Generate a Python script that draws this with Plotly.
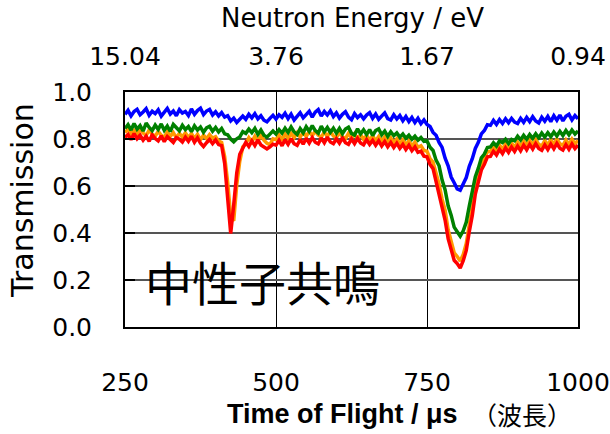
import plotly.graph_objects as go

tof = list(range(250, 1001, 5))

blue = [
    0.905, 0.922, 0.898, 0.917, 0.926, 0.903, 0.915, 0.929, 0.901, 0.918,
    0.908, 0.924, 0.897, 0.915, 0.930, 0.906, 0.919, 0.899, 0.925, 0.910,
    0.917, 0.900, 0.928, 0.905, 0.921, 0.931, 0.904, 0.919, 0.926, 0.902,
    0.916, 0.898, 0.912, 0.893, 0.899, 0.877, 0.889, 0.870, 0.886, 0.898,
    0.884, 0.905, 0.890, 0.908, 0.886, 0.899, 0.880, 0.873, 0.888, 0.901,
    0.885, 0.903, 0.892, 0.910, 0.887, 0.906, 0.881, 0.899, 0.912, 0.890,
    0.907, 0.918, 0.893, 0.914, 0.925, 0.898, 0.917, 0.902, 0.920, 0.895,
    0.911, 0.889, 0.905, 0.916, 0.893, 0.882, 0.908, 0.891, 0.903, 0.886,
    0.902, 0.912, 0.888, 0.906, 0.884, 0.899, 0.911, 0.887, 0.881, 0.903,
    0.885, 0.900, 0.878, 0.896, 0.874, 0.892, 0.870, 0.888, 0.865, 0.881,
    0.862, 0.853, 0.828, 0.816, 0.785, 0.764, 0.718, 0.686, 0.638, 0.614,
    0.588, 0.582, 0.606, 0.636, 0.684, 0.716, 0.760, 0.786, 0.822, 0.836,
    0.861, 0.858, 0.879, 0.862, 0.883, 0.866, 0.886, 0.869, 0.888, 0.872,
    0.866, 0.888, 0.871, 0.892, 0.874, 0.895, 0.877, 0.868, 0.893, 0.876,
    0.896, 0.874, 0.899, 0.880, 0.902, 0.877, 0.897, 0.905, 0.881, 0.900,
    0.886,
]

green = [
    0.845, 0.861, 0.838, 0.866, 0.842, 0.857, 0.834, 0.868, 0.849, 0.836,
    0.859, 0.841, 0.864, 0.837, 0.855, 0.832, 0.862, 0.846, 0.835, 0.858,
    0.840, 0.853, 0.831, 0.856, 0.838, 0.851, 0.829, 0.847, 0.854, 0.833,
    0.849, 0.830, 0.845, 0.822, 0.818, 0.800, 0.788, 0.801, 0.809, 0.831,
    0.824, 0.842, 0.827, 0.845, 0.820, 0.838, 0.816, 0.808, 0.822, 0.834,
    0.821, 0.840, 0.825, 0.846, 0.828, 0.851, 0.830, 0.819, 0.844, 0.826,
    0.852, 0.833, 0.857, 0.836, 0.825, 0.855, 0.831, 0.849, 0.828, 0.846,
    0.825, 0.845, 0.823, 0.842, 0.850, 0.824, 0.817, 0.843, 0.822, 0.839,
    0.819, 0.840, 0.815, 0.836, 0.843, 0.818, 0.834, 0.811, 0.831, 0.814,
    0.826, 0.808, 0.821, 0.803, 0.816, 0.799, 0.812, 0.795, 0.806, 0.790,
    0.792, 0.765, 0.751, 0.710, 0.686, 0.625, 0.583, 0.516, 0.476, 0.425,
    0.405, 0.386, 0.409, 0.446, 0.515, 0.573, 0.640, 0.676, 0.720, 0.736,
    0.764, 0.766, 0.784, 0.770, 0.792, 0.785, 0.799, 0.781, 0.798, 0.792,
    0.812, 0.796, 0.816, 0.799, 0.819, 0.803, 0.822, 0.805, 0.825, 0.808,
    0.827, 0.810, 0.830, 0.813, 0.833, 0.815, 0.836, 0.818, 0.838, 0.821,
    0.834,
]

orange = [
    0.828, 0.841, 0.822, 0.836, 0.819, 0.843, 0.825, 0.815, 0.838, 0.820,
    0.812, 0.833, 0.816, 0.807, 0.830, 0.811, 0.827, 0.805, 0.824, 0.809,
    0.826, 0.806, 0.823, 0.802, 0.820, 0.797, 0.816, 0.801, 0.819, 0.804,
    0.810, 0.791, 0.785, 0.725, 0.615, 0.472, 0.452, 0.605, 0.705, 0.766,
    0.779, 0.806, 0.788, 0.812, 0.792, 0.815, 0.795, 0.782, 0.776, 0.801,
    0.797, 0.817, 0.799, 0.821, 0.802, 0.824, 0.806, 0.827, 0.808, 0.829,
    0.811, 0.832, 0.814, 0.834, 0.816, 0.808, 0.830, 0.811, 0.833, 0.813,
    0.806, 0.827, 0.809, 0.802, 0.824, 0.804, 0.822, 0.800, 0.819, 0.798,
    0.816, 0.795, 0.814, 0.792, 0.811, 0.790, 0.809, 0.787, 0.805, 0.784,
    0.801, 0.780, 0.797, 0.775, 0.792, 0.770, 0.787, 0.765, 0.771, 0.751,
    0.748, 0.716, 0.702, 0.654, 0.608, 0.544, 0.496, 0.414, 0.368, 0.316,
    0.300, 0.281, 0.309, 0.355, 0.435, 0.505, 0.595, 0.640, 0.695, 0.715,
    0.746, 0.747, 0.767, 0.751, 0.774, 0.756, 0.779, 0.760, 0.783, 0.764,
    0.787, 0.768, 0.791, 0.772, 0.794, 0.775, 0.797, 0.777, 0.770, 0.793,
    0.774, 0.797, 0.777, 0.800, 0.780, 0.773, 0.796, 0.776, 0.799, 0.779,
    0.794,
]

red = [
    0.806, 0.819, 0.797, 0.823, 0.801, 0.816, 0.795, 0.812, 0.790, 0.818,
    0.802, 0.792, 0.813, 0.789, 0.810, 0.798, 0.785, 0.806, 0.799, 0.787,
    0.808, 0.790, 0.812, 0.786, 0.805, 0.782, 0.768, 0.784, 0.798, 0.780,
    0.796, 0.776, 0.772, 0.696, 0.565, 0.398, 0.520, 0.655, 0.735, 0.760,
    0.786, 0.768, 0.792, 0.772, 0.796, 0.775, 0.766, 0.758, 0.767, 0.778,
    0.774, 0.794, 0.771, 0.797, 0.777, 0.801, 0.780, 0.773, 0.798, 0.778,
    0.803, 0.783, 0.806, 0.786, 0.779, 0.804, 0.784, 0.808, 0.787, 0.780,
    0.801, 0.782, 0.805, 0.784, 0.777, 0.800, 0.780, 0.803, 0.783, 0.775,
    0.797, 0.777, 0.794, 0.773, 0.792, 0.770, 0.789, 0.767, 0.785, 0.764,
    0.782, 0.760, 0.777, 0.755, 0.773, 0.750, 0.766, 0.743, 0.748, 0.727,
    0.724, 0.692, 0.674, 0.619, 0.571, 0.504, 0.454, 0.376, 0.336, 0.284,
    0.270, 0.251, 0.282, 0.326, 0.405, 0.475, 0.566, 0.612, 0.668, 0.692,
    0.724, 0.726, 0.748, 0.732, 0.756, 0.738, 0.762, 0.743, 0.766, 0.747,
    0.770, 0.750, 0.774, 0.754, 0.777, 0.757, 0.780, 0.760, 0.752, 0.775,
    0.755, 0.778, 0.758, 0.781, 0.761, 0.753, 0.776, 0.756, 0.779, 0.759,
    0.774,
]

x_ticks = [250, 500, 750, 1000]
x_ticklabels = ["250", "500", "750", "1000"]
energy_ticklabels = ["15.04", "3.76", "1.67", "0.94"]
y_ticks = [0.0, 0.2, 0.4, 0.6, 0.8, 1.0]
y_ticklabels = ["0.0", "0.2", "0.4", "0.6", "0.8", "1.0"]

FONT = "DejaVu Sans"
CJK = "Noto Sans CJK JP"

W, H = 610, 434
ML, MR, MT, MB = 125, 32, 92, 107
PW, PH = W - ML - MR, H - MT - MB


def px(xp, yp):
    return (xp - ML) / PW, (H - MB - yp) / PH


fig = go.Figure()
series = [
    (orange, "#FF9900"),
    (red, "#FF0000"),
    (green, "#008000"),
    (blue, "#0000FF"),
]
for vals, col in series:
    fig.add_trace(go.Scatter(x=tof, y=vals, mode="lines",
                             line=dict(color=col, width=3.5),
                             showlegend=False, hoverinfo="skip"))

# invisible trace to activate the top (energy) axis
fig.add_trace(go.Scatter(x=[x_ticks[0], x_ticks[-1]], y=[y_ticks[0], y_ticks[0]],
                         xaxis="x2", mode="lines", line=dict(width=0),
                         showlegend=False, hoverinfo="skip", opacity=0))

ylab_x, ylab_y = px(22, 201)
xt_x1, xt_y = px(225, 414)
xt_x2, xt_y2 = px(470, 414)
nt_x, nt_y = px(352, 18)

fig.update_layout(
    width=W, height=H,
    margin=dict(l=ML, r=MR, t=MT, b=MB),
    paper_bgcolor="white", plot_bgcolor="white",
    font=dict(family=FONT, size=25, color="black"),
    xaxis=dict(
        range=[250, 1000], tickvals=x_ticks, ticktext=x_ticklabels,
        showgrid=True, gridcolor="black", gridwidth=1,
        showline=True, linecolor="black", linewidth=2, mirror=True,
        ticks="", ticklabelstandoff=32, automargin=False,
        tickfont=dict(family=FONT, size=25), zeroline=False,
    ),
    xaxis2=dict(
        range=[250, 1000], tickvals=x_ticks, ticktext=energy_ticklabels,
        overlaying="x", side="top", showgrid=False,
        ticks="", ticklabelstandoff=21, automargin=False,
        tickfont=dict(family=FONT, size=25), zeroline=False,
    ),
    yaxis=dict(
        range=[0, 1], tickvals=y_ticks, ticktext=y_ticklabels,
        showgrid=True, gridcolor="#555555", gridwidth=1.5,
        showline=True, linecolor="black", linewidth=2, mirror=True,
        ticks="inside", ticklen=10, tickwidth=2, tickcolor="black",
        ticklabelstandoff=26, automargin=False,
        tickfont=dict(family=FONT, size=25), zeroline=False,
    ),
    annotations=[
        dict(text="中性子共鳴", x=280, y=0.2, xref="x", yref="y",
             xanchor="left", yanchor="middle", showarrow=False,
             font=dict(family=CJK, size=47, color="black")),
        dict(text="Transmission", x=ylab_x, y=ylab_y, xref="paper", yref="paper",
             textangle=-90, xanchor="center", yanchor="middle", showarrow=False,
             font=dict(family=FONT, size=30, color="black")),
        dict(text="Neutron Energy / eV", x=nt_x, y=nt_y, xref="paper", yref="paper",
             xanchor="center", yanchor="middle", showarrow=False,
             font=dict(family=FONT, size=26, color="black")),
        dict(text="<b>Time of Flight / μs</b>", x=xt_x1, y=xt_y, xref="paper", yref="paper",
             xanchor="left", yanchor="middle", showarrow=False,
             font=dict(family="Liberation Sans", size=27, color="black")),
        dict(text="（波長）", x=xt_x2, y=xt_y2, xref="paper", yref="paper",
             xanchor="left", yanchor="middle", showarrow=False,
             font=dict(family=CJK, size=25, color="black")),
    ],
)

fig.write_html("out.html")
